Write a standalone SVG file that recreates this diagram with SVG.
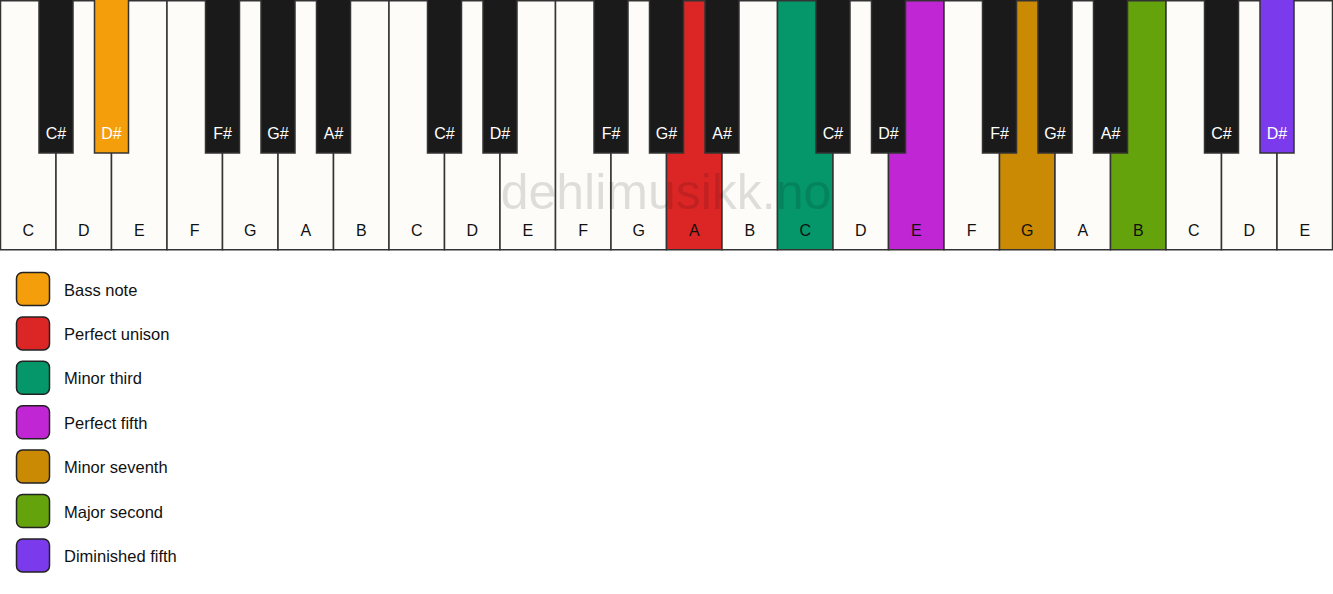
<svg xmlns="http://www.w3.org/2000/svg" width="1333" height="594" viewBox="0 0 1333 594">
<style>
text{font-family:"Liberation Sans",Arial,sans-serif;font-size:16px;}
.w{fill:#fdfcf9;stroke:#333;stroke-width:1.5;}
.b{fill:#1a1a1a;stroke:#333;stroke-width:1.5;}
.wl{fill:#111;text-anchor:middle;}
.bl{fill:#fff;text-anchor:middle;}
.lg{stroke:#222;stroke-width:1.5;}
.lt{fill:#111;font-size:16.5px;}
.wm{font-size:50px;fill:#000;fill-opacity:0.12;text-anchor:middle;}
</style>
<rect width="1333" height="594" fill="#ffffff"/>
<g id="white-keys">
<g id="w0"><rect class="w" x="0.5" y="0.75" width="55.5" height="249"/><text class="wl" x="28.25" y="236">C</text></g>
<g id="w1"><rect class="w" x="56" y="0.75" width="55.5" height="249"/><text class="wl" x="83.75" y="236">D</text></g>
<g id="w2"><rect class="w" x="111.5" y="0.75" width="55.5" height="249"/><text class="wl" x="139.25" y="236">E</text></g>
<g id="w3"><rect class="w" x="167" y="0.75" width="55.5" height="249"/><text class="wl" x="194.75" y="236">F</text></g>
<g id="w4"><rect class="w" x="222.5" y="0.75" width="55.5" height="249"/><text class="wl" x="250.25" y="236">G</text></g>
<g id="w5"><rect class="w" x="278" y="0.75" width="55.5" height="249"/><text class="wl" x="305.75" y="236">A</text></g>
<g id="w6"><rect class="w" x="333.5" y="0.75" width="55.5" height="249"/><text class="wl" x="361.25" y="236">B</text></g>
<g id="w7"><rect class="w" x="389" y="0.75" width="55.5" height="249"/><text class="wl" x="416.75" y="236">C</text></g>
<g id="w8"><rect class="w" x="444.5" y="0.75" width="55.5" height="249"/><text class="wl" x="472.25" y="236">D</text></g>
<g id="w9"><rect class="w" x="500" y="0.75" width="55.5" height="249"/><text class="wl" x="527.75" y="236">E</text></g>
<g id="w10"><rect class="w" x="555.5" y="0.75" width="55.5" height="249"/><text class="wl" x="583.25" y="236">F</text></g>
<g id="w11"><rect class="w" x="611" y="0.75" width="55.5" height="249"/><text class="wl" x="638.75" y="236">G</text></g>
<g id="w12"><rect class="w" x="666.5" y="0.75" width="55.5" height="249" style="fill:#dc2626"/><text class="wl" x="694.25" y="236">A</text></g>
<g id="w13"><rect class="w" x="722" y="0.75" width="55.5" height="249"/><text class="wl" x="749.75" y="236">B</text></g>
<g id="w14"><rect class="w" x="777.5" y="0.75" width="55.5" height="249" style="fill:#059669"/><text class="wl" x="805.25" y="236">C</text></g>
<g id="w15"><rect class="w" x="833" y="0.75" width="55.5" height="249"/><text class="wl" x="860.75" y="236">D</text></g>
<g id="w16"><rect class="w" x="888.5" y="0.75" width="55.5" height="249" style="fill:#c026d3"/><text class="wl" x="916.25" y="236">E</text></g>
<g id="w17"><rect class="w" x="944" y="0.75" width="55.5" height="249"/><text class="wl" x="971.75" y="236">F</text></g>
<g id="w18"><rect class="w" x="999.5" y="0.75" width="55.5" height="249" style="fill:#ca8a04"/><text class="wl" x="1027.25" y="236">G</text></g>
<g id="w19"><rect class="w" x="1055" y="0.75" width="55.5" height="249"/><text class="wl" x="1082.75" y="236">A</text></g>
<g id="w20"><rect class="w" x="1110.5" y="0.75" width="55.5" height="249" style="fill:#65a30d"/><text class="wl" x="1138.25" y="236">B</text></g>
<g id="w21"><rect class="w" x="1166" y="0.75" width="55.5" height="249"/><text class="wl" x="1193.75" y="236">C</text></g>
<g id="w22"><rect class="w" x="1221.5" y="0.75" width="55.5" height="249"/><text class="wl" x="1249.25" y="236">D</text></g>
<g id="w23"><rect class="w" x="1277" y="0.75" width="55.5" height="249"/><text class="wl" x="1304.75" y="236">E</text></g>
</g>
<g id="black-keys">
<g id="b1"><rect class="b" x="39" y="-1" width="34" height="154"/><text class="bl" x="56" y="139">C#</text></g>
<g id="b2"><rect class="b" x="94.5" y="-1" width="34" height="154" style="fill:#f59e0b"/><text class="bl" x="111.5" y="139">D#</text></g>
<g id="b4"><rect class="b" x="205.5" y="-1" width="34" height="154"/><text class="bl" x="222.5" y="139">F#</text></g>
<g id="b5"><rect class="b" x="261" y="-1" width="34" height="154"/><text class="bl" x="278" y="139">G#</text></g>
<g id="b6"><rect class="b" x="316.5" y="-1" width="34" height="154"/><text class="bl" x="333.5" y="139">A#</text></g>
<g id="b8"><rect class="b" x="427.5" y="-1" width="34" height="154"/><text class="bl" x="444.5" y="139">C#</text></g>
<g id="b9"><rect class="b" x="483" y="-1" width="34" height="154"/><text class="bl" x="500" y="139">D#</text></g>
<g id="b11"><rect class="b" x="594" y="-1" width="34" height="154"/><text class="bl" x="611" y="139">F#</text></g>
<g id="b12"><rect class="b" x="649.5" y="-1" width="34" height="154"/><text class="bl" x="666.5" y="139">G#</text></g>
<g id="b13"><rect class="b" x="705" y="-1" width="34" height="154"/><text class="bl" x="722" y="139">A#</text></g>
<g id="b15"><rect class="b" x="816" y="-1" width="34" height="154"/><text class="bl" x="833" y="139">C#</text></g>
<g id="b16"><rect class="b" x="871.5" y="-1" width="34" height="154"/><text class="bl" x="888.5" y="139">D#</text></g>
<g id="b18"><rect class="b" x="982.5" y="-1" width="34" height="154"/><text class="bl" x="999.5" y="139">F#</text></g>
<g id="b19"><rect class="b" x="1038" y="-1" width="34" height="154"/><text class="bl" x="1055" y="139">G#</text></g>
<g id="b20"><rect class="b" x="1093.5" y="-1" width="34" height="154"/><text class="bl" x="1110.5" y="139">A#</text></g>
<g id="b22"><rect class="b" x="1204.5" y="-1" width="34" height="154"/><text class="bl" x="1221.5" y="139">C#</text></g>
<g id="b23"><rect class="b" x="1260" y="-1" width="34" height="154" style="fill:#7c3aed"/><text class="bl" x="1277" y="139">D#</text></g>
</g>
<text class="wm" x="666" y="209">dehlimusikk.no</text>
<g id="legend">
<g id="lg-bass"><rect class="lg" x="16.5" y="272.5" width="33" height="33" rx="6" fill="#f59e0b"/><text class="lt" x="64" y="295.5">Bass note</text></g>
<g id="lg-unison"><rect class="lg" x="16.5" y="316.9" width="33" height="33" rx="6" fill="#dc2626"/><text class="lt" x="64" y="339.9">Perfect unison</text></g>
<g id="lg-m3"><rect class="lg" x="16.5" y="361.3" width="33" height="33" rx="6" fill="#059669"/><text class="lt" x="64" y="384.3">Minor third</text></g>
<g id="lg-p5"><rect class="lg" x="16.5" y="405.7" width="33" height="33" rx="6" fill="#c026d3"/><text class="lt" x="64" y="428.7">Perfect fifth</text></g>
<g id="lg-m7"><rect class="lg" x="16.5" y="450.1" width="33" height="33" rx="6" fill="#ca8a04"/><text class="lt" x="64" y="473.1">Minor seventh</text></g>
<g id="lg-M2"><rect class="lg" x="16.5" y="494.5" width="33" height="33" rx="6" fill="#65a30d"/><text class="lt" x="64" y="517.5">Major second</text></g>
<g id="lg-d5"><rect class="lg" x="16.5" y="538.9" width="33" height="33" rx="6" fill="#7c3aed"/><text class="lt" x="64" y="561.9">Diminished fifth</text></g>
</g>
</svg>
